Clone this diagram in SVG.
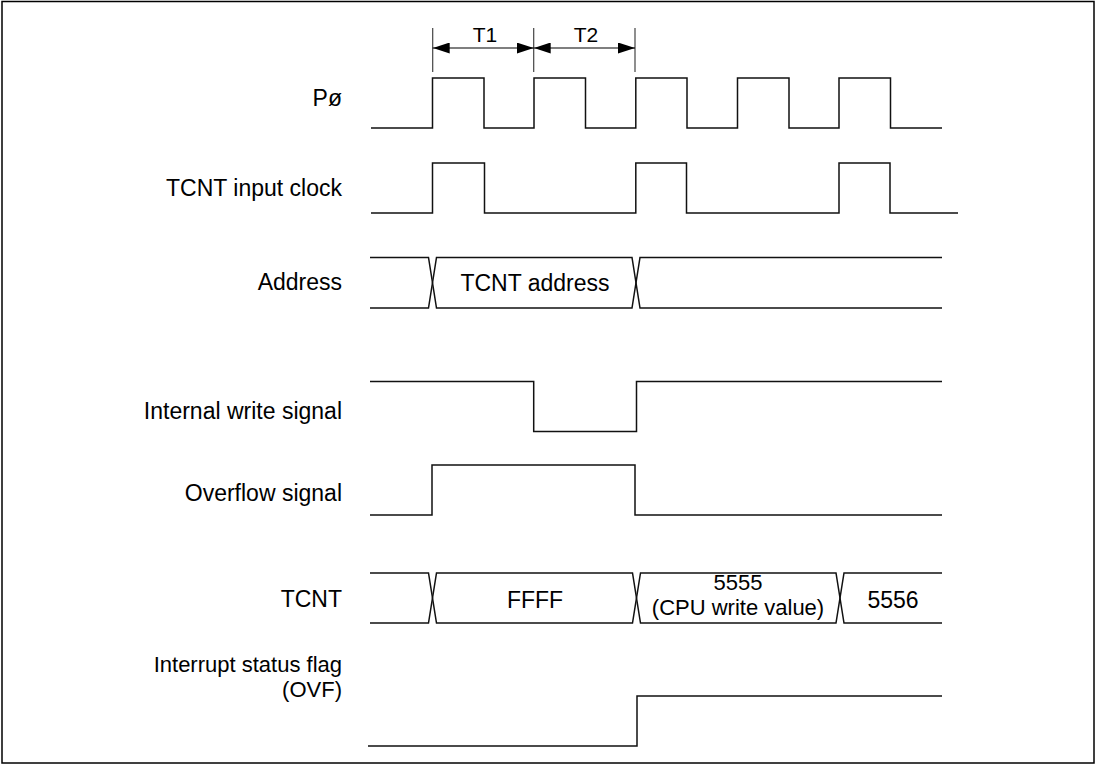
<svg xmlns="http://www.w3.org/2000/svg" width="1095" height="766" viewBox="0 0 1095 766">
<defs>
<marker id="ah" viewBox="0 0 17 11" refX="17" refY="5.5" markerWidth="17" markerHeight="11" markerUnits="userSpaceOnUse" orient="auto-start-reverse">
<path d="M0,0 L17,5.5 L0,11 Z" fill="#000"/>
</marker>
<style>
.w{fill:none;stroke:#111;stroke-width:1.5;stroke-linejoin:miter}
.t{font-family:"Liberation Sans",Arial,sans-serif;font-size:23px;fill:#000}
.s{font-size:21px}
.m{font-size:22px}
.l{text-anchor:end}
.c{text-anchor:middle}
.tick{stroke:#444;stroke-width:1.2}
.dim{stroke:#000;stroke-width:1.2}
</style>
</defs>
<rect x="2" y="1.5" width="1092" height="761.5" fill="#fff" stroke="#000" stroke-width="1.5"/>

<g id="timing">
<line class="tick" x1="432.7" y1="28" x2="432.7" y2="72"/>
<line class="tick" x1="533.7" y1="28" x2="533.7" y2="72"/>
<line class="tick" x1="635" y1="28" x2="635" y2="72"/>
<line class="dim" x1="432.7" y1="48" x2="533.7" y2="48" marker-start="url(#ah)" marker-end="url(#ah)"/>
<line class="dim" x1="533.7" y1="48" x2="635" y2="48" marker-start="url(#ah)" marker-end="url(#ah)"/>
<text class="t s c" x="485" y="42">T1</text>
<text class="t s c" x="586" y="42">T2</text>
</g>

<g id="phi">
<text class="t l" x="342" y="106">Pø</text>
<path class="w" d="M371,128 H432.5 V78 H484 V128 H534 V78 H585.5 V128 H635.8 V78 H687 V128 H737.5 V78 H789 V128 H839 V78 H890.5 V128 H942"/>
</g>

<g id="tcnt-clock">
<text class="t l" x="342" y="196">TCNT input clock</text>
<path class="w" d="M371,213 H432.5 V163 H484.5 V213 H635.8 V163 H686.5 V213 H839 V163 H890 V213 H958"/>
</g>

<g id="address">
<text class="t l" x="342" y="290">Address</text>
<path class="w" d="M370,257.5 H428.5 L436.5,308 H632 L640,257.5 H942"/>
<path class="w" d="M370,308 H428.5 L436.5,257.5 H632 L640,308 H942"/>
<text class="t c" x="535" y="291">TCNT address</text>
</g>

<g id="write">
<text class="t l" x="342" y="419">Internal write signal</text>
<path class="w" d="M370,381.5 H533.7 V431.5 H636.5 V381.5 H942"/>
</g>

<g id="overflow">
<text class="t l" x="342" y="501">Overflow signal</text>
<path class="w" d="M370,515 H432 V465 H635 V515 H942"/>
</g>

<g id="tcnt">
<text class="t l" x="342" y="607">TCNT</text>
<path class="w" d="M370,573 H428.5 L436.5,623 H632.5 L640.5,573 H836 L844,623 H942"/>
<path class="w" d="M370,623 H428.5 L436.5,573 H632.5 L640.5,623 H836 L844,573 H942"/>
<text class="t c" x="535" y="608">FFFF</text>
<text class="t m c" x="738" y="590">5555</text>
<text class="t m c" x="738" y="615">(CPU write value)</text>
<text class="t c" x="893" y="608">5556</text>
</g>

<g id="ovf-flag">
<text class="t m l" x="342" y="672">Interrupt status flag</text>
<text class="t m l" x="342" y="697">(OVF)</text>
<path class="w" d="M368,746 H637 V696 H942"/>
</g>
</svg>
